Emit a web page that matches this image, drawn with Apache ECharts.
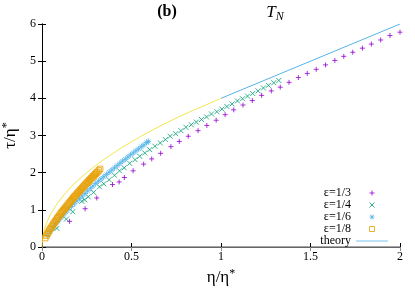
<!DOCTYPE html>
<html>
<head>
<meta charset="utf-8">
<script src="https://cdn.jsdelivr.net/npm/echarts@6/dist/echarts.min.js"></script>
<style>
html,body{margin:0;padding:0;background:#fff;}
#chart{width:415px;height:291px;}
</style>
</head>
<body>
<div id="chart"></div>
<script>
// ---- data ----
var seriesNames = ['ε=1/3', 'ε=1/4', 'ε=1/6', 'ε=1/8', 'theory'];
var xTicks = [0, 0.5, 1, 1.5, 2];
var yTicks = [0, 1, 2, 3, 4, 5, 6];

var eps3 = [
  [0.154,0.69],[0.241,1.03],[0.306,1.32],[0.394,1.68],[0.431,1.75],[0.46,1.87],
  [0.509,2.05],[0.568,2.23],[0.613,2.37],[0.663,2.52],[0.72,2.70],[0.767,2.84],
  [0.817,2.98],[0.872,3.13],[0.921,3.27],[0.973,3.41],[1.023,3.56],[1.071,3.69],
  [1.123,3.82],[1.175,3.94],[1.227,4.08],[1.281,4.20],[1.331,4.30],[1.38,4.43],
  [1.432,4.56],[1.482,4.67],[1.532,4.78],[1.584,4.90],[1.636,5.02],[1.686,5.13],
  [1.736,5.24],[1.79,5.35],[1.84,5.46],[1.892,5.57],[1.944,5.69],[2.0,5.78]
];
var eps4 = [
  [0.083,0.50],[0.136,0.75],[0.172,0.95],[0.222,1.23],[0.238,1.27],[0.258,1.35],
  [0.288,1.47],[0.321,1.62],[0.345,1.70],[0.375,1.81],[0.405,1.93],[0.433,2.05],
  [0.459,2.13],[0.49,2.25],[0.52,2.35],[0.546,2.44],[0.574,2.53],[0.602,2.62],
  [0.631,2.71],[0.661,2.80],[0.689,2.89],[0.716,2.98],[0.747,3.05],[0.776,3.13],
  [0.804,3.22],[0.834,3.29],[0.862,3.36],[0.891,3.43],[0.919,3.50],[0.947,3.58],
  [0.977,3.64],[1.005,3.71],[1.033,3.78],[1.062,3.85],[1.092,3.93],[1.12,3.99],
  [1.148,4.06],[1.177,4.13],[1.207,4.20],[1.237,4.28],[1.265,4.35],[1.295,4.42],
  [1.323,4.48]
];
var eps6 = [
  [0.03,0.31],[0.045,0.41],[0.06,0.51],[0.075,0.61],[0.09,0.69],[0.105,0.78],
  [0.12,0.86],[0.135,0.94],[0.15,1.02],[0.165,1.09],[0.18,1.16],[0.195,1.24],
  [0.21,1.31],[0.225,1.37],[0.24,1.44],[0.255,1.51],[0.27,1.58],[0.285,1.64],
  [0.30,1.71],[0.315,1.77],[0.33,1.83],[0.345,1.89],[0.36,1.95],[0.375,2.01],
  [0.39,2.07],[0.405,2.13],[0.42,2.19],[0.435,2.25],[0.45,2.31],[0.465,2.36],
  [0.48,2.42],[0.495,2.48],[0.51,2.53],[0.525,2.59],[0.54,2.64],[0.555,2.70],
  [0.57,2.75],[0.585,2.81],[0.594,2.84]
];
var eps8 = [
  [0.018,0.24],[0.024,0.30],[0.03,0.35],[0.035,0.39],[0.04,0.44],[0.045,0.48],
  [0.05,0.51],[0.055,0.55],[0.06,0.59],[0.065,0.63],[0.07,0.66],[0.075,0.70],
  [0.08,0.73],[0.085,0.77],[0.09,0.80],[0.095,0.83],[0.10,0.87],[0.105,0.90],
  [0.11,0.93],[0.115,0.96],[0.12,0.99],[0.125,1.02],[0.13,1.05],[0.135,1.08],
  [0.14,1.11],[0.145,1.14],[0.15,1.17],[0.155,1.20],[0.16,1.23],[0.165,1.26],
  [0.17,1.29],[0.175,1.32],[0.18,1.35],[0.185,1.37],[0.19,1.40],[0.195,1.43],
  [0.20,1.46],[0.205,1.48],[0.21,1.51],[0.215,1.54],[0.22,1.56],[0.225,1.59],
  [0.23,1.62],[0.235,1.64],[0.24,1.67],[0.245,1.70],[0.25,1.72],[0.255,1.75],
  [0.26,1.77],[0.265,1.80],[0.27,1.82],[0.275,1.85],[0.28,1.87],[0.285,1.90],
  [0.29,1.92],[0.295,1.95],[0.30,1.97],[0.305,2.00],[0.31,2.02],[0.318,2.06],
  [0.325,2.10]
];
var theoryLow = [
  [0,0],[0.005,0.28],[0.01,0.40],[0.02,0.57],[0.04,0.80],[0.06,0.98],[0.1,1.26],
  [0.15,1.55],[0.2,1.79],[0.3,2.19],[0.4,2.53],[0.5,2.83],[0.6,3.10],[0.7,3.35],
  [0.8,3.58],[0.9,3.79],[1.0,4.0]
];
var theoryHigh = [[1,4],[2,6]];

// ---- styles ----
var SERIF = '"Liberation Serif", "DejaVu Serif", serif';
var colors = ['#9400d3', '#009e73', '#56b4e9', '#e69f00', '#56b4e9', '#f0e442'];
var plusPath = 'path://M0,5L10,5M5,0L5,10';
var crossPath = 'path://M0,0L10,10M10,0L0,10';
var starPath = 'path://M0,5L10,5M5,0L5,10M1.5,1.5L8.5,8.5M8.5,1.5L1.5,8.5';
var squarePath = 'path://M0,0L10,0L10,10L0,10Z';
var linePath = 'path://M0,0L40,0L40,1L0,1Z';
var symbols = [plusPath, crossPath, starPath, squarePath];
var sizes = [5, 5, 6, 5.5];

function scatter(i, data) {
  return {
    name: seriesNames[i], type: 'scatter', data: data, symbol: symbols[i], symbolSize: sizes[i],
    itemStyle: {color: 'none', borderColor: colors[i], borderWidth: 1},
    silent: true, animation: false
  };
}

var legendData = [0, 1, 2, 3].map(function (i) {
  return {name: seriesNames[i], icon: symbols[i],
    itemStyle: {color: 'none', borderColor: colors[i], borderWidth: 1}};
});
legendData.push({name: seriesNames[4], icon: linePath,
  itemStyle: {color: colors[4], borderWidth: 0}});

var chart = echarts.init(document.getElementById('chart'), null, {renderer: 'canvas'});
var axisLabelStyle = {fontFamily: SERIF, fontSize: 12, color: '#000'};
var nameRich = {
  a: {fontFamily: SERIF, fontSize: 17, color: '#000', lineHeight: 20},
  s: {fontFamily: SERIF, fontSize: 12, color: '#000', verticalAlign: 'top', lineHeight: 20, padding: [0, 0, 6, 0]}
};
chart.setOption({
  animation: false,
  grid: {left: 42, right: 15, top: 24, bottom: 44, containLabel: false, outerBoundsMode: 'none'},
  legend: {
    data: legendData,
    orient: 'vertical', align: 'right', right: 22, top: 182,
    itemWidth: 32, itemHeight: 5, itemGap: 0,
    textStyle: {fontFamily: SERIF, fontSize: 12, lineHeight: 11.6, color: '#000'},
    selectedMode: false
  },
  xAxis: [{
    type: 'value', min: 0, max: 2, interval: 0.5, position: 'bottom',
    axisLine: {lineStyle: {color: '#000', width: 1}},
    axisTick: {inside: true, length: 4, lineStyle: {color: '#000'}},
    splitLine: {show: false},
    axisLabel: Object.assign({margin: 4, formatter: function (v) { return String(v); }}, axisLabelStyle),
    name: '{a|η/η}{s|*}', nameLocation: 'middle', nameGap: 12,
    nameTextStyle: {rich: nameRich}
  }, {
    type: 'value', min: 0, max: 2, interval: 0.5, position: 'top',
    axisLine: {lineStyle: {color: '#888', width: 1.5}},
    axisTick: {inside: true, length: 4, lineStyle: {color: '#888'}},
    axisLabel: {show: false}, splitLine: {show: false}
  }],
  yAxis: [{
    type: 'value', min: 0, max: 6, interval: 1, position: 'left',
    axisLine: {show: true, lineStyle: {color: '#000', width: 1}},
    axisTick: {show: true, inside: true, length: 4, lineStyle: {color: '#000'}},
    splitLine: {show: false},
    axisLabel: Object.assign({margin: 6}, axisLabelStyle),
    name: '{a|τ/η}{s|*}', nameLocation: 'middle', nameGap: 20, nameRotate: 90,
    nameTextStyle: {rich: nameRich}
  }, {
    type: 'value', min: 0, max: 6, interval: 1, position: 'right',
    axisLine: {show: true, lineStyle: {color: '#000', width: 1}},
    axisTick: {show: true, inside: true, length: 4, lineStyle: {color: '#000'}},
    axisLabel: {show: false}, splitLine: {show: false}
  }],
  series: [
    {
      name: 'theoryLow', type: 'line', data: theoryLow, smooth: true, symbol: 'none',
      lineStyle: {color: colors[5], width: 1}, silent: true, z: 1
    },
    {
      name: seriesNames[4], type: 'line', data: theoryHigh, symbol: 'none',
      itemStyle: {color: colors[4]},
      lineStyle: {color: colors[4], width: 1}, silent: true, z: 1
    },
    scatter(0, eps3),
    scatter(1, eps4),
    scatter(2, eps6),
    scatter(3, eps8)
  ],
  graphic: [
    {type: 'text', x: 167, y: 12, style: {text: '(b)', font: 'bold 16px ' + SERIF, fill: '#000', align: 'center', verticalAlign: 'middle'}},
    {type: 'text', x: 275, y: 13, style: {
      text: '{t|T}{n|N}', align: 'center', verticalAlign: 'middle',
      rich: {
        t: {fontFamily: SERIF, fontStyle: 'italic', fontSize: 17, fill: '#000', lineHeight: 20},
        n: {fontFamily: SERIF, fontStyle: 'italic', fontSize: 12, fill: '#000', verticalAlign: 'bottom', lineHeight: 20, padding: [6, 0, 0, 0]}
      }
    }}
  ]
});
</script>
</body>
</html>
